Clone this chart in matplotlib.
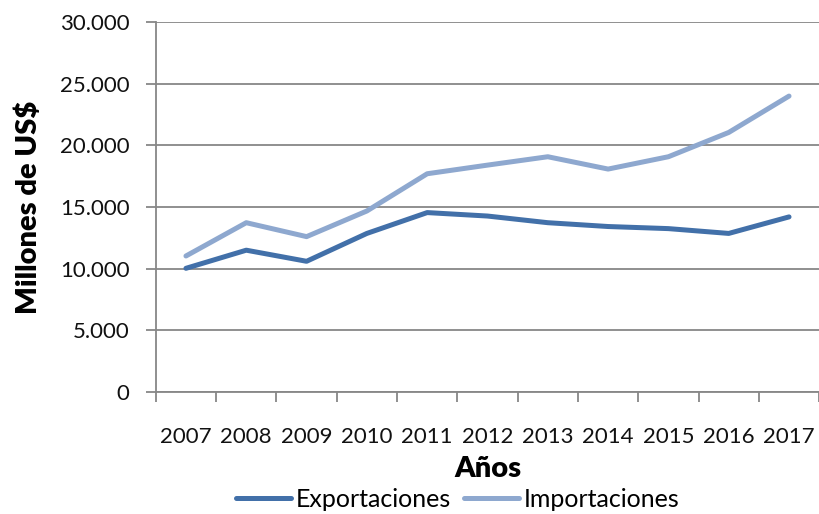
import matplotlib
matplotlib.use("Agg")
import matplotlib.pyplot as plt
from matplotlib.ticker import FuncFormatter, MultipleLocator, FixedLocator

# data (millones de US$)
years = ["2007", "2008", "2009", "2010", "2011", "2012", "2013", "2014", "2015", "2016", "2017"]
exportaciones = [10030, 11500, 10600, 12860, 14550, 14270, 13730, 13420, 13250, 12860, 14200]
importaciones = [11030, 13730, 12600, 14680, 17700, 18400, 19080, 18080, 19080, 21050, 24000]

plt.rcParams['font.family'] = ['Lato', 'DejaVu Sans']

grey = "#878787"
fig = plt.figure(figsize=(8.2, 5.14), dpi=100)
ax = fig.add_axes([0.190, 0.2374, 0.809, 0.7196])

x = list(range(len(years)))
ax.plot(x, exportaciones, color="#4270a9", lw=3.6, solid_capstyle="round", label="Exportaciones")
ax.plot(x, importaciones, color="#8ea8cf", lw=3.6, solid_capstyle="round", label="Importaciones")

ax.set_xlim(-0.5, len(years) - 0.5)
ax.set_ylim(0, 30000)
ax.yaxis.set_major_locator(MultipleLocator(5000))
ax.yaxis.set_major_formatter(FuncFormatter(lambda v, p: f"{int(v):,}".replace(",", ".")))
ax.grid(axis="y", color=grey, lw=1.3)
ax.set_axisbelow(True)

ax.set_xticks(x)
ax.set_xticklabels(years)
ax.xaxis.set_minor_locator(FixedLocator([i - 0.5 for i in range(len(years) + 1)]))
ax.tick_params(axis="x", which="major", length=0, pad=25, labelsize=16, labelcolor="#111111")
ax.tick_params(axis="x", which="minor", length=7, width=1.3, color=grey)
ax.tick_params(axis="y", length=7, width=1.3, color=grey, labelsize=16, pad=12, labelcolor="#111111")

for s in ["top", "right"]:
    ax.spines[s].set_visible(False)
for s in ["left", "bottom"]:
    ax.spines[s].set_color(grey)
    ax.spines[s].set_linewidth(1.3)

ax.set_ylabel("Millones de US$", fontsize=21, fontweight="heavy", labelpad=13)
ax.set_xlabel("Años", fontsize=21, fontweight="heavy", labelpad=7)

fig.legend(loc="lower center", bbox_to_anchor=(0.558, -0.038), ncol=2, frameon=False,
           fontsize=18, handlelength=2.2, handletextpad=0.2, columnspacing=0.5)

fig.savefig("out.png", dpi=100)
